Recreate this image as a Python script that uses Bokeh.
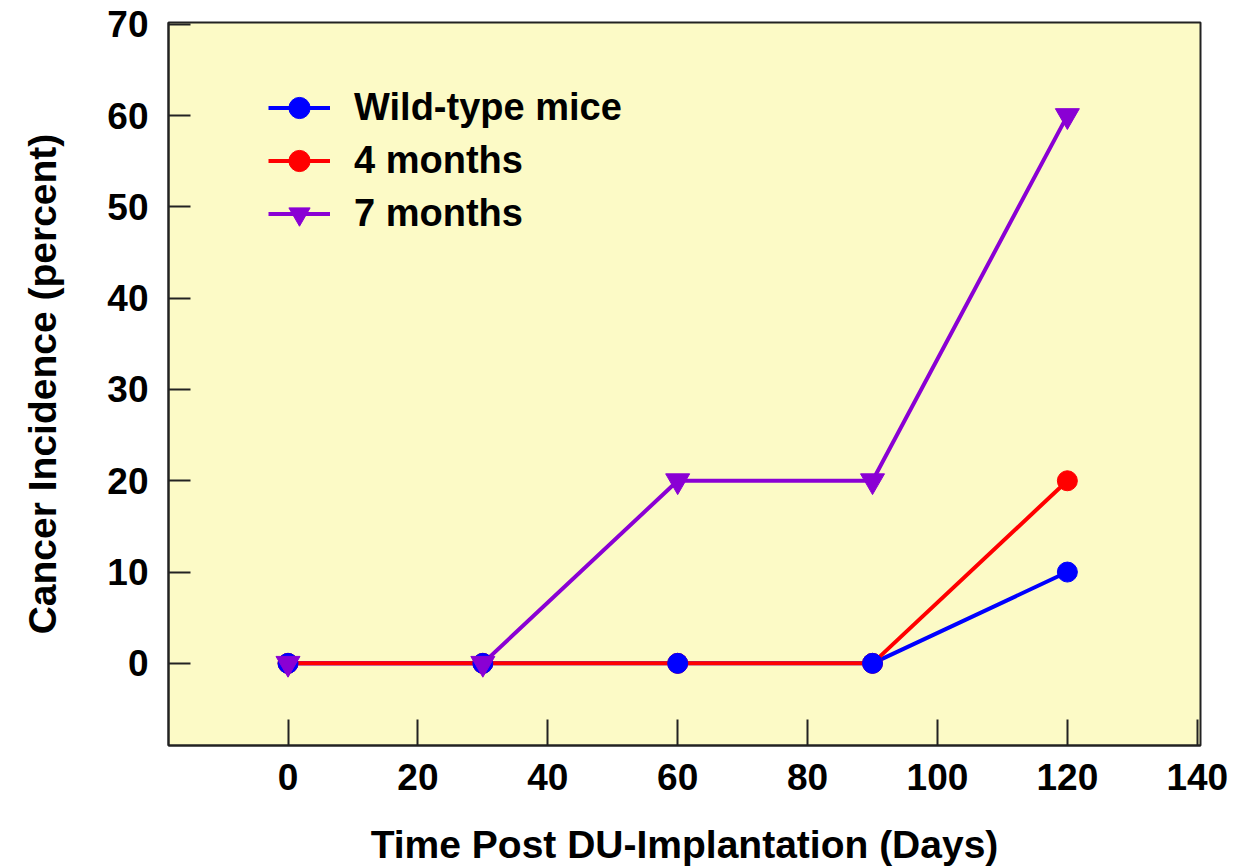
from bokeh.plotting import figure
from bokeh.models import Range1d, FixedTicker, Legend, LegendItem
from bokeh.embed import file_html
from bokeh.resources import INLINE

# ---- data ----
days = [0, 30, 60, 90, 120]
wild_type = [0, 0, 0, 0, 10]
four_months = [0, 0, 0, 0, 20]
seven_months = [0, 0, 20, 20, 60]
series_names = ["Wild-type mice", "4 months", "7 months"]
x_ticks = [0, 20, 40, 60, 80, 100, 120, 140]
y_ticks = [0, 10, 20, 30, 40, 50, 60, 70]
x_title = "Time Post DU-Implantation (Days)"
y_title = "Cancer Incidence (percent)"

BLUE = "#0000FF"
RED = "#FF0000"
PURPLE = "#8A00D4"
FONT = "Liberation Sans"

p = figure(
    width=1241, height=858,
    frame_width=1032, frame_height=723,
    min_border_left=168, min_border_top=22, min_border_right=41, min_border_bottom=113,
    x_range=Range1d(-18.4, 140.5), y_range=Range1d(-9, 70.2),
    output_backend="svg", toolbar_location=None,
    background_fill_color="#FCFAC6", border_fill_color="white",
)
p.grid.visible = False
p.outline_line_color = "#222222"
p.outline_line_width = 2

for ax in (p.xaxis[0], p.yaxis[0]):
    ax.axis_line_width = 2
    ax.axis_line_color = "#222222"
    ax.major_tick_line_width = 2
    ax.major_tick_line_color = "#222222"
    ax.major_tick_out = 0
    ax.minor_tick_line_color = None
    ax.major_label_text_font = FONT
    ax.major_label_text_font_style = "bold"
    ax.major_label_text_font_size = "37px"
    ax.major_label_text_color = "black"
    ax.axis_label_text_font = FONT
    ax.axis_label_text_font_style = "bold"
    ax.axis_label_text_font_size = "39px"
    ax.axis_label_text_color = "black"

p.xaxis.ticker = FixedTicker(ticks=x_ticks)
p.yaxis.ticker = FixedTicker(ticks=y_ticks)
p.xaxis.major_tick_in = 26
p.yaxis.major_tick_in = 22
p.xaxis.major_label_standoff = 18
p.yaxis.major_label_standoff = 20
p.xaxis.axis_label = x_title
p.yaxis.axis_label = y_title
p.xaxis.axis_label_standoff = 30
p.yaxis.axis_label_standoff = 40

# lines
l_blue = p.line(days, wild_type, line_color=BLUE, line_width=4)
l_purple = p.line(days, seven_months, line_color=PURPLE, line_width=4)
l_red = p.line(days, four_months, line_color=RED, line_width=4)
# markers
m_red = p.scatter(days, four_months, marker="circle", size=20, fill_color=RED, line_color=RED)
m_blue = p.scatter(days, wild_type, marker="circle", size=20, fill_color=BLUE, line_color=BLUE)
m_purple = p.scatter(days, seven_months, marker="inverted_triangle", size=24, fill_color=PURPLE, line_color=PURPLE)

legend = Legend(
    items=[
        LegendItem(label=series_names[0], renderers=[l_blue, m_blue]),
        LegendItem(label=series_names[1], renderers=[l_red, m_red]),
        LegendItem(label=series_names[2], renderers=[l_purple, m_purple]),
    ],
    location=(100, 505),
    padding=0, margin=0, spacing=0,
    glyph_width=62, glyph_height=53, label_height=53,
    label_standoff=24,
    background_fill_alpha=0, border_line_color=None,
    label_text_font=FONT, label_text_font_style="bold",
    label_text_font_size="38px", label_text_color="black",
)
p.add_layout(legend, "center")

open("out.html", "w").write(file_html(p, INLINE))
